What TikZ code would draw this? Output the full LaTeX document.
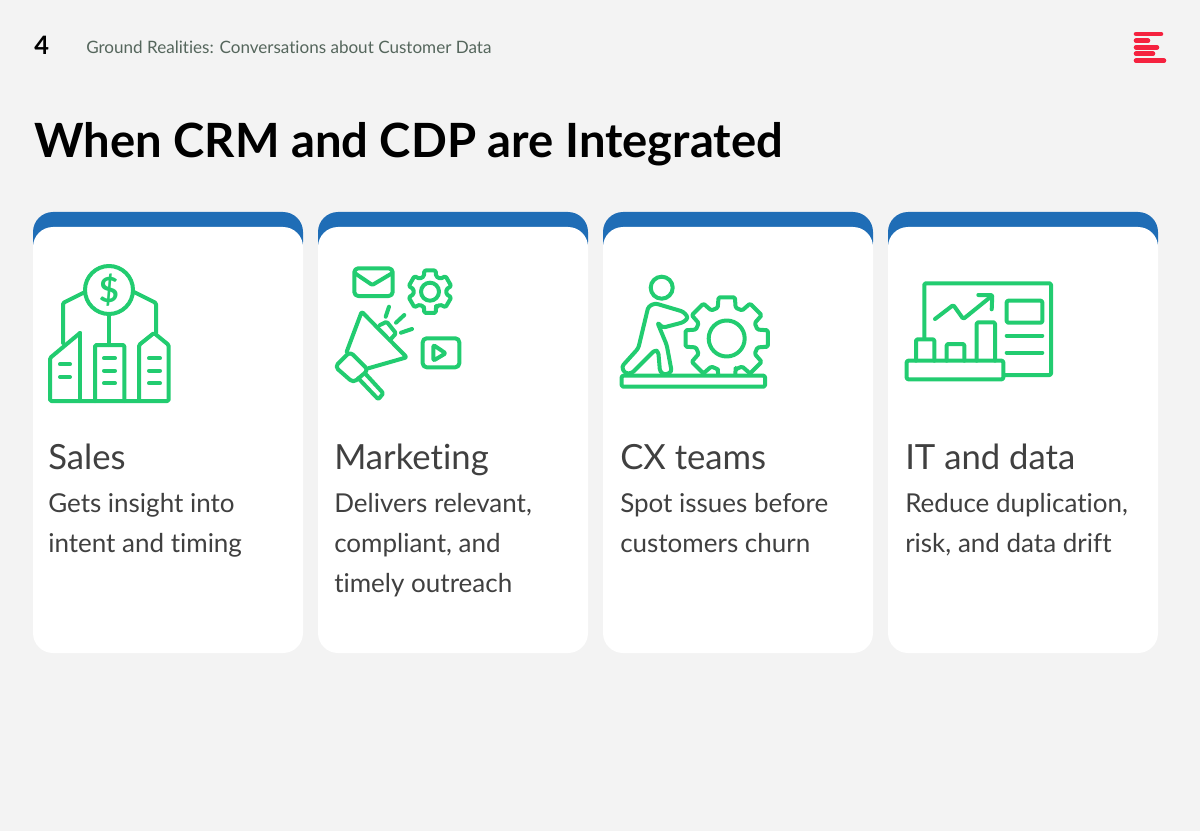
\documentclass[tikz,border=0pt]{standalone}
\usepackage{fontspec}
\setmainfont{Lato}[Ligatures=NoCommon]
\definecolor{pagebg}{HTML}{F3F3F3}
\definecolor{capblue}{HTML}{1F6DB6}
\definecolor{icongreen}{HTML}{22CC70}
\definecolor{textgrey}{HTML}{404040}
\definecolor{headgrey}{HTML}{55665C}
\definecolor{logored}{HTML}{F5223F}
\newcommand{\cog}[7]{% x, y, outer, inner, teeth, start, hole
  \begin{scope}[shift={(#1,#2)}]%
    \pgfmathsetmacro{\cogstep}{360/#5}%
    \draw[icon,fill=white] (#6-\cogstep*0.36:#4)
    \foreach \i [evaluate=\i as \a using #6+\i*\cogstep] in {0,...,#5} {%
      -- (\a-\cogstep*0.36:#4) -- (\a-\cogstep*0.25:#3)
      -- (\a+\cogstep*0.25:#3) -- (\a+\cogstep*0.36:#4)
    };%
    \draw[icon] (0,0) circle (#7);%
  \end{scope}%
}
\begin{document}
\begin{tikzpicture}[x=0.75pt,y=-0.75pt,%
    cardcap/.style={fill=capblue,draw=none,rounded corners=15pt},%
    cardbody/.style={fill=white,draw=none,rounded corners=15pt},%
    icon/.style={draw=icongreen,line width=3pt,line join=round,line cap=round,rounded corners=1pt},%
    logobar/.style={draw=logored,line width=3.4pt,line cap=round},%
    pagenum/.style={anchor=base west,inner sep=0pt,font=\fontsize{19}{23}\selectfont\bfseries,text=black},%
    runhead/.style={anchor=base west,inner sep=0pt,font=\fontsize{12.8}{16}\selectfont,text=headgrey},%
    pagetitle/.style={anchor=base west,inner sep=0pt,font=\fontsize{35.4}{40}\selectfont\bfseries,text=black},%
    cardtitle/.style={anchor=base west,inner sep=0pt,font=\fontsize{26}{30}\selectfont,text=textgrey},%
    cardtext/.style={anchor=base west,inner sep=0pt,font=\fontsize{19.5}{24}\selectfont,text=textgrey}%
  ]
  \useasboundingbox (0,0) rectangle (1200,831);%
  \fill[pagebg] (0,0) rectangle (1200,831);%
  %% header
  \node[pagenum] (num) at (34,55) {4};%
  \node[runhead] (head) at (86,54) {Ground Realities: Conversations about Customer Data};%
  \node[pagetitle] (title) at (34,158) {When CRM and CDP are Integrated};%
  \foreach \xa/\xb/\y in {1136/1161/34,1136/1148/40.7,1136/1157/47.3,1136/1153/53.7,1136/1164/60.7} {%
    \draw[logobar] (\xa,\y) -- (\xb,\y);%
  }%
  %% cards
  \foreach \x in {33,318,603,888} {%
    \fill[cardcap] (\x,212) rectangle ++(270,50);%
    \fill[cardbody] (\x,227) rectangle ++(270,426);%
  }%
  %% card texts
  \node[cardtitle] (sales) at (48,469) {Sales};%
  \node[cardtext] (sales1) at (48,512) {Gets insight into};%
  \node[cardtext] (sales2) at (48,552) {intent and timing};%
  \node[cardtitle] (mkt) at (334,469) {Marketing};%
  \node[cardtext] (mkt1) at (334,512) {Delivers relevant,};%
  \node[cardtext] (mkt2) at (334,552) {compliant, and};%
  \node[cardtext] (mkt3) at (334,592) {timely outreach};%
  \node[cardtitle] (cx) at (620,469) {CX teams};%
  \node[cardtext] (cx1) at (620,512) {Spot issues before};%
  \node[cardtext] (cx2) at (620,552) {customers churn};%
  \node[cardtitle] (it) at (905,469) {IT and data};%
  \node[cardtext] (it1) at (905,512) {Reduce duplication,};%
  \node[cardtext] (it2) at (905,552) {risk, and data drift};%
  %% sales icon
  \draw[icon] (109,290) circle (24);%
  \node[inner sep=0pt,font=\fontsize{26}{26}\selectfont\bfseries,text=icongreen] (dollar) at (109,290) {\$};%
  \draw[icon] (85,292) -- (63,303) -- (63,343);%
  \draw[icon] (134,292) -- (156,303) -- (156,333);%
  \draw[icon] (109,315) -- (109,345);%
  \draw[icon] (80,333) -- (50,358) -- (50,401) -- (168.7,401) -- (168.7,345) -- (154,333) -- (139,345) -- (139,401);%
  \draw[icon] (80,333) -- (80,401);%
  \draw[icon] (95,401) -- (95,345) -- (124.3,345) -- (124.3,401);%
  \foreach \y in {364.3,377} {%
    \draw[icon] (60,\y) -- (70,\y);%
  }%
  \foreach \y in {358.3,370.7,383.3} {%
    \draw[icon] (104,\y) -- (115,\y);%
    \draw[icon] (149,\y) -- (160,\y);%
  }%
  %% marketing icon
  \draw[icon,rounded corners=3pt] (354.3,268.3) rectangle (392.7,296);%
  \draw[icon] (355,273.3) -- (372.3,285) -- (392,273.3);%
  \cog{430}{291.7}{22}{16.5}{6}{90}{9}%
  \draw[icon] (346.7,351.7) -- (361.7,311.7) -- (406.7,357.3) -- (368.3,368.3);%
  \draw[icon,rounded corners=3pt] (350,351.7) -- (368.3,370) -- (353.3,382.7) -- (335,366.7) -- cycle;%
  \draw[icon] (365,373.3) -- (383.3,393.3) -- (378.3,399.3) -- (358.3,378.3);%
  \draw[icon] (380,325) -- (386.7,321.7) -- (396,333.3) -- (390,340);%
  \draw[icon] (389,306.7) -- (385.7,316.7);%
  \draw[icon] (404.3,315) -- (396,322.7);%
  \draw[icon] (412,329) -- (401,332.7);%
  \draw[icon,rounded corners=3pt] (422.7,338.3) rectangle (459.3,367.3);%
  \draw[icon] (433.3,345) -- (445.7,353.3) -- (433.3,360.7) -- cycle;%
  %% cx icon
  \cog{726.7}{338.5}{42}{32}{8}{90}{18}%
  \draw[icon,fill=white,rounded corners=2pt] (621.7,366.7) -- (638.3,348.3) -- (648.3,306.7) -- (655,303.3) -- (683.3,311.7) -- (688.3,317.7) -- (683.3,322.3) -- (662.7,327.7) -- (657.3,322.3) -- (666.7,345) -- (671.7,371.7) -- (665,375) -- (660,371.7) -- (658.3,351.7) -- (655,350) -- (631.7,373.3) -- (625,373.3) -- cycle;%
  \draw[icon,fill=white] (661.7,287.7) circle (11);%
  \draw[icon,fill=white] (621.7,375.7) rectangle (765,386.7);%
  %% it icon
  \draw[icon] (924.3,338) |- (1051,283.3) |- (1005,375);%
  \draw[icon] (906.7,360.7) rectangle (1003.3,379.3);%
  \draw[icon] (916,360.7) |- (934.3,339.3) -- (934.3,360.7);%
  \draw[icon] (946.7,360.7) |- (964.3,344) -- (964.3,360.7);%
  \draw[icon] (976.7,360.7) |- (995,322.3) -- (995,360.7);%
  \draw[icon] (1006.7,300.7) rectangle (1042.3,322.7);%
  \draw[icon] (1006.7,335.7) -- (1042.3,335.7);%
  \draw[icon] (1006.7,352.7) -- (1042.3,352.7);%
  \draw[icon] (935,319) -- (953.3,305) -- (963.3,319) -- (991.7,296);%
  \draw[icon] (978.3,295) -- (992.3,295) -- (991.7,309.3);%
\end{tikzpicture}
\end{document}
